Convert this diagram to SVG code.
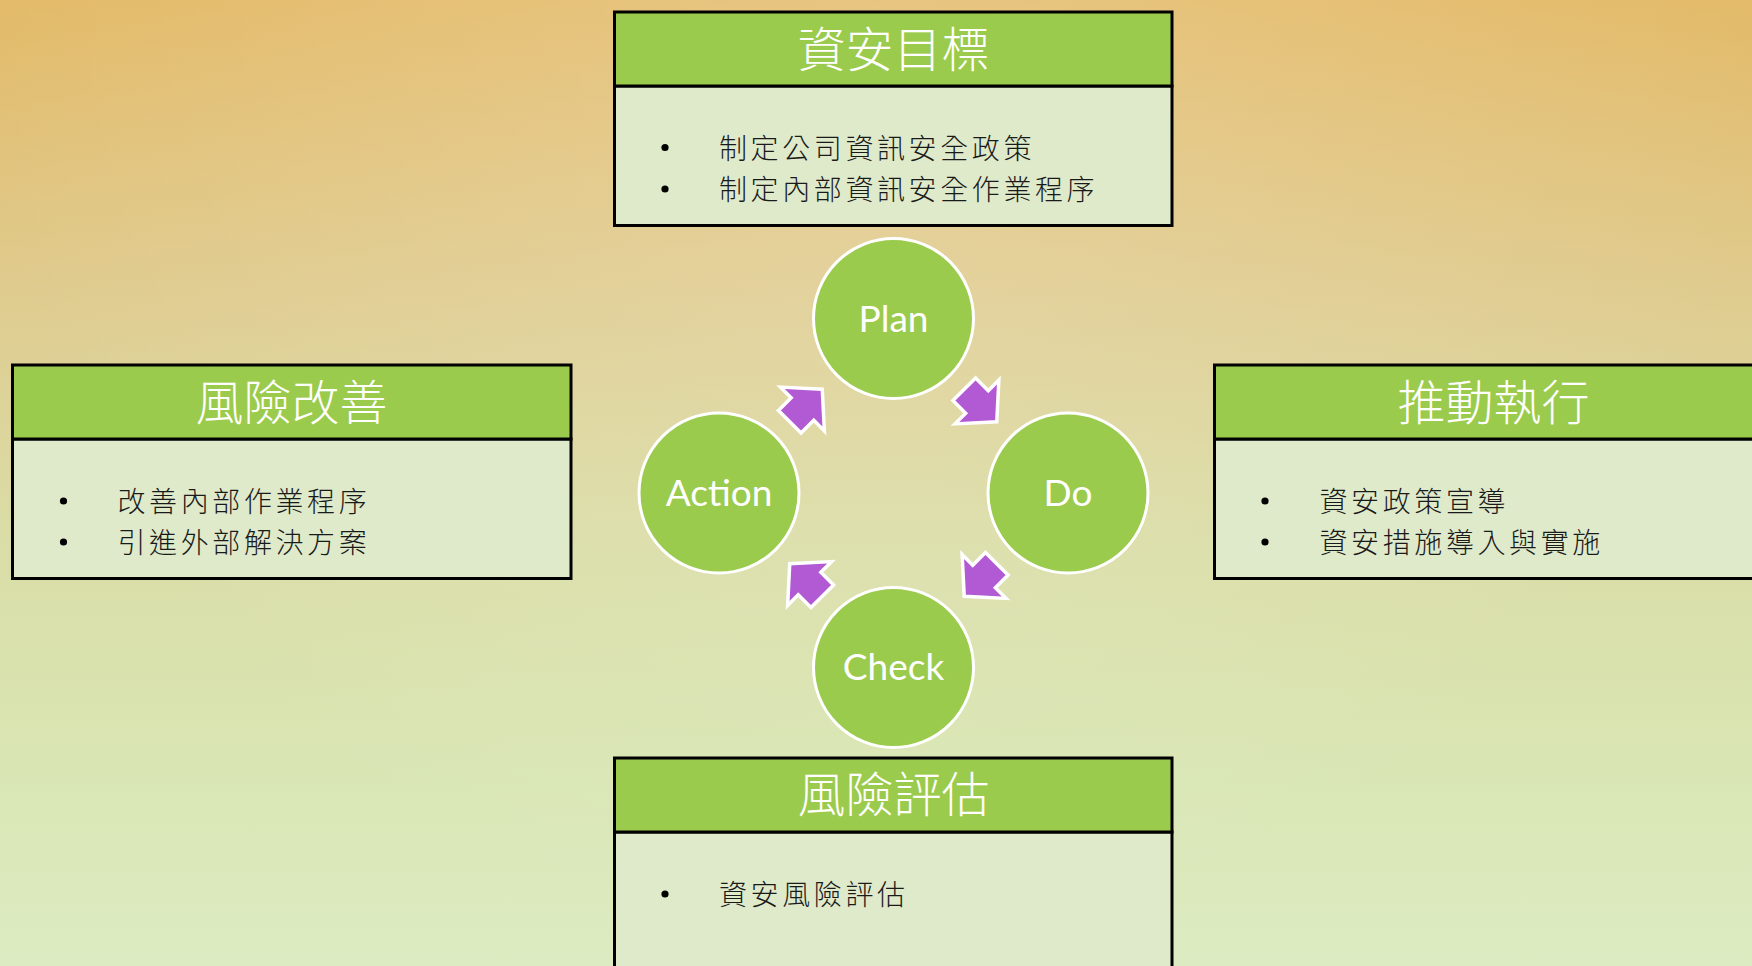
<svg xmlns="http://www.w3.org/2000/svg" xmlns:xlink="http://www.w3.org/1999/xlink" width="1752" height="966" viewBox="0 0 1752 966">
<defs>
<linearGradient id="bg" x1="0" y1="0" x2="0" y2="1">
<stop offset="0" stop-color="#E3BA68"/>
<stop offset="0.3" stop-color="#DFCB8E"/>
<stop offset="0.55" stop-color="#DADDA6"/>
<stop offset="0.8" stop-color="#D9E6B4"/>
<stop offset="1" stop-color="#DDEBC2"/>
</linearGradient>
<radialGradient id="glow" cx="876" cy="60" r="900" gradientUnits="userSpaceOnUse">
<stop offset="0" stop-color="#FFFFFF" stop-opacity="0.18"/>
<stop offset="1" stop-color="#FFFFFF" stop-opacity="0"/>
</radialGradient>
<polygon id="arr" points="-23,-16 -5,-16 -5,-31 23,0 -5,31 -5,16 -23,16"/>
</defs>
<style>
.hdr{fill:#9BCB4C;stroke:#000;stroke-width:3}
.body{fill:#DFEACB;stroke:#000;stroke-width:3}
.ttl{font-family:"Noto Sans CJK TC","Noto Sans CJK SC",sans-serif;font-weight:300;font-size:48px;fill:#FFFFFF;text-anchor:middle}
.txt{font-family:"Noto Sans CJK TC","Noto Sans CJK SC",sans-serif;font-weight:300;font-size:28px;letter-spacing:3.6px;fill:#1A1A1A}
.dot{fill:#000}
.cir{fill:#9BCB4C;stroke:#FFFFFF;stroke-width:3}
.ctx{font-family:Lato,"Noto Sans",sans-serif;font-size:37px;fill:#FFFFFF;text-anchor:middle}
.arrow{fill:#B25AD4;stroke:#FFFFFF;stroke-width:3.5;stroke-linejoin:miter}
</style>
<rect x="0" y="0" width="1752" height="966" fill="url(#bg)"/>
<rect x="0" y="0" width="1752" height="966" fill="url(#glow)"/>

<g id="box-goal">
<rect class="body" x="614.5" y="86" width="557.5" height="139.5"/>
<rect class="hdr" x="614.5" y="12" width="557.5" height="74"/>
<text class="ttl" x="893.5" y="67">資安目標</text>
<circle class="dot" cx="665" cy="147.5" r="3.6"/>
<text class="txt" x="719" y="158.5">制定公司資訊安全政策</text>
<circle class="dot" cx="665" cy="189" r="3.6"/>
<text class="txt" x="719" y="199.5">制定內部資訊安全作業程序</text>
</g>

<g id="box-improve">
<rect class="body" x="12.5" y="439" width="558.5" height="139.5"/>
<rect class="hdr" x="12.5" y="365" width="558.5" height="74"/>
<text class="ttl" x="291.5" y="420">風險改善</text>
<circle class="dot" cx="63.5" cy="501" r="3.6"/>
<text class="txt" x="117.5" y="512">改善內部作業程序</text>
<circle class="dot" cx="63.5" cy="542" r="3.6"/>
<text class="txt" x="117.5" y="553">引進外部解決方案</text>
</g>

<g id="box-execute">
<rect class="body" x="1214.5" y="439" width="558.5" height="139.5"/>
<rect class="hdr" x="1214.5" y="365" width="558.5" height="74"/>
<text class="ttl" x="1493.5" y="420">推動執行</text>
<circle class="dot" cx="1265" cy="501" r="3.6"/>
<text class="txt" x="1319.5" y="512">資安政策宣導</text>
<circle class="dot" cx="1265" cy="542" r="3.6"/>
<text class="txt" x="1319.5" y="553">資安措施導入與實施</text>
</g>

<g id="box-assess">
<rect class="body" x="614.5" y="832" width="557.5" height="160"/>
<rect class="hdr" x="614.5" y="758" width="557.5" height="74"/>
<text class="ttl" x="893.5" y="812">風險評估</text>
<circle class="dot" cx="665" cy="894" r="3.6"/>
<text class="txt" x="719" y="905">資安風險評估</text>
</g>

<g id="node-plan">
<circle class="cir" cx="893.5" cy="318.5" r="80"/>
<text class="ctx" x="893.5" y="331.5">Plan</text>
</g>
<g id="node-do">
<circle class="cir" cx="1068" cy="493" r="80"/>
<text class="ctx" x="1068" y="506">Do</text>
</g>
<g id="node-check">
<circle class="cir" cx="893.5" cy="667.5" r="80"/>
<text class="ctx" x="893.5" y="680">Check</text>
</g>
<g id="node-action">
<circle class="cir" cx="719" cy="493" r="80"/>
<text class="ctx" x="719" y="506">Action</text>
</g>

<g id="connectors">
<use xlink:href="#arr" class="arrow" transform="translate(980.5,405.5) rotate(45)"/>
<use xlink:href="#arr" class="arrow" transform="translate(980.5,580) rotate(135)"/>
<use xlink:href="#arr" class="arrow" transform="translate(806,580) rotate(225)"/>
<use xlink:href="#arr" class="arrow" transform="translate(806,405.5) rotate(-45)"/>
</g>
</svg>
